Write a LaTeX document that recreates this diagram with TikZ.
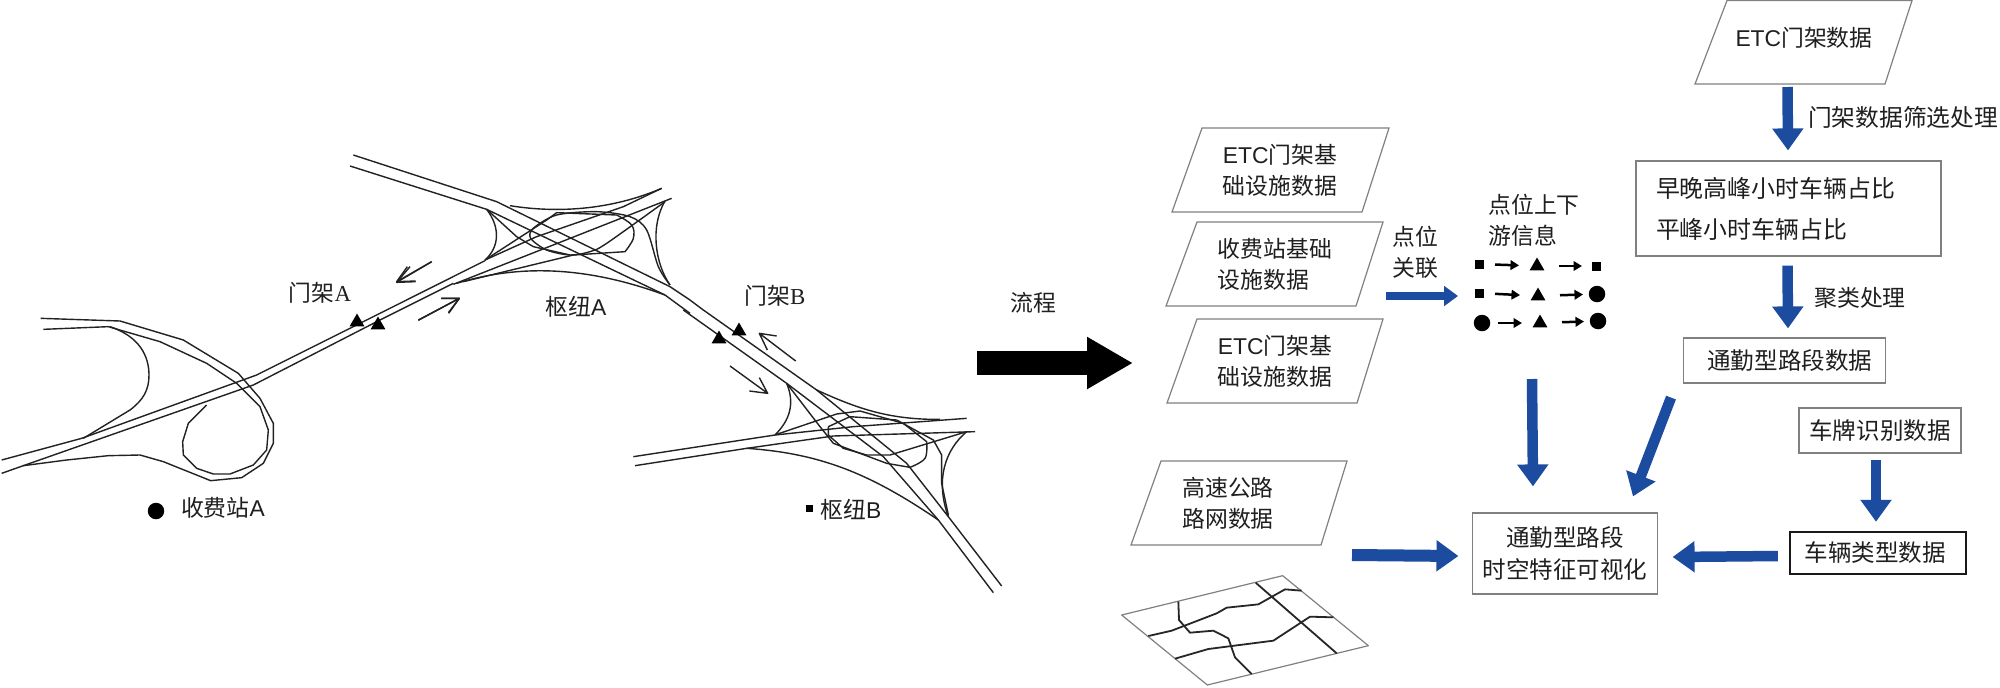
\documentclass[tikz,border=0pt]{standalone}
\usepackage{fontspec}
\usetikzlibrary{arrows.meta,shapes.geometric,calc}
\setmainfont{Liberation Sans}
\newfontfamily\cjk{Noto Sans CJK SC}
\newfontfamily\serifl{Liberation Serif}
\newcommand{\fsA}{\fontsize{13pt}{17.6pt}\selectfont}
\newcommand{\fsB}{\fontsize{13.4pt}{18.3pt}\selectfont}
\newcommand{\fsC}{\fontsize{13.6pt}{23.2pt}\selectfont}
\newcommand{\lat}[1]{{\rmfamily #1}}
\definecolor{arrowblue}{HTML}{1B4C9F}
\definecolor{boxgray}{HTML}{808080}
\definecolor{roadink}{HTML}{222222}
\tikzset{
  txt/.style={inner sep=0pt,outer sep=0pt,font=\cjk\fsA,text=black!88,align=center},
  ltxt/.style={txt,align=left},
  boxn/.style={draw=boxgray,line width=.024cm,inner sep=0pt,fill=white,font=\cjk\fsB,text=black!88,align=center},
  pline/.style={draw=boxgray,line width=.024cm},
  road/.style={draw=roadink,line width=.028cm,line join=round},
  mapedge/.style={draw=boxgray,line width=.024cm,line join=round},
  mapline/.style={draw=black!85,line width=.036cm,line join=round},
  blue arrow/.style={draw=arrowblue,line width=.21cm,-{Triangle[length=.44cm,width=.6cm,fill=arrowblue]}},
  thin blue arrow/.style={draw=arrowblue,line width=.16cm,-{Triangle[length=.28cm,width=.39cm,fill=arrowblue]}},
  flow arrow/.style={draw=black,line width=.48cm,-{Triangle[length=.92cm,width=.98cm,fill=black]}},
  small arrow/.style={draw=black,line width=.05cm,-{Triangle[length=.17cm,width=.19cm,fill=black]},shorten <=.32cm,shorten >=.36cm},
  small arrow two/.style={draw=black,line width=.05cm,-{Triangle[length=.17cm,width=.19cm,fill=black]},shorten <=.44cm,shorten >=.28cm},
  tri/.style={regular polygon,regular polygon sides=3,fill=black,inner sep=0pt,outer sep=0pt,minimum size=.34cm},
  sq/.style={rectangle,fill=black,inner sep=0pt,outer sep=0pt,minimum size=.18cm},
  dot/.style={circle,fill=black,inner sep=0pt,outer sep=0pt,minimum size=.33cm},
}
\begin{document}
\begin{tikzpicture}[x=.02cm,y=-.02cm]
\useasboundingbox (0,0) rectangle (2000,687);
\fill[white] (0,0) rectangle (2000,687);

% ---------- interchange with toll station A (zoom coordinates)
\begin{scope}[shift={(0,120)},scale=.33333]
\draw[road] (5,1020) -- (245,955) -- (770,765) -- (1100,600) -- (1455,422);
\draw[road] (5,1060) -- (70,1037) -- (760,795) -- (1140,600) -- (1360,490);
\draw[road] (122,595) -- (360,603) -- (550,660) -- (715,760) -- (780,835) -- (820,910) -- (820,970) -- (790,1030) -- (725,1073) -- (632,1082) -- (490,1025) -- (420,1005) -- (325,1007) -- (200,1020) -- (70,1037);
\draw[road] (130,628) -- (325,620) -- (480,665) -- (620,730) -- (710,790) -- (780,860) -- (805,930) -- (800,990) -- (760,1035) -- (690,1062) -- (640,1062) -- (590,1045) -- (550,1005) -- (548,965) -- (565,910) -- (620,855);
\draw[road] (330,620) .. controls (420,650) and (447,710) .. (447,765) .. controls (447,810) and (430,840) .. (390,870) -- (250,955);
\draw[road] (1295,425) -- (1190,487) (1230,440) -- (1190,487) -- (1247,485);
\draw[road] (1255,600) -- (1378,535) (1325,535) -- (1378,535) -- (1345,578);
\end{scope}

% ---------- hub A
\begin{scope}[shift={(330,140)},scale=.33333]
\draw[road] (70,45) -- (500,185) -- (1020,440) -- (1080,480);
\draw[road] (60,78) -- (470,208) -- (1005,465) -- (1080,520);
\draw[road] (370,433) -- (1025,175);
\draw[road] (465,360) -- (620,290) -- (880,200) -- (995,145);
\draw[road] (540,197) .. controls (650,215) and (820,220) .. (995,145);
\draw[road] (380,430) .. controls (560,375) and (760,375) .. (1005,465);
\draw[road] (1005,183) .. controls (960,260) and (975,370) .. (1020,435);
\draw[road] (470,208) .. controls (510,260) and (510,320) .. (465,360);
\draw[road] (470,208) -- (560,290) -- (610,320) -- (720,345);
\draw[road] (465,360) -- (650,240) -- (680,218) -- (860,225) plot[smooth,tension=.6] coordinates {(860,225) (905,255) (910,295) (885,335)} -- (730,345) -- (400,425);
\draw[road] plot[smooth,tension=.5] coordinates {(1005,185) (830,310) (780,335) (720,345) (650,330) (602,295) (610,265) (680,225) (800,215) (900,230) (950,270) (985,380) (1020,435)};
\draw[road] (305,365) -- (200,425) (232,380) -- (200,425) -- (257,423);
\draw[road] (265,541) -- (388,475) (333,475) -- (388,475) -- (356,520);
\end{scope}

% ---------- hub B
\begin{scope}[shift={(620,310)},scale=.33333]
\draw[road] (210,-30) -- (250,0) -- (590,240) -- (860,460) -- (985,620) -- (1145,828);
\draw[road] (190,0) -- (500,220) -- (790,440) -- (955,630) -- (1120,848);
\draw[road] (40,440) -- (465,375) -- (700,350) -- (1040,325);
\draw[road] (45,467) -- (380,415) -- (640,378) -- (1065,365);
\draw[road] (500,220) .. controls (525,280) and (510,330) .. (465,375);
\draw[road] (500,220) -- (600,350) -- (640,400) -- (800,460) -- (870,472) plot[smooth,tension=.6] coordinates {(870,472) (915,445) (920,395)} -- (850,340) -- (720,303) -- (650,312) -- (470,373);
\draw[road] (625,350) -- (625,375) -- (670,415) -- (740,435) -- (810,435) -- (1040,365);
\draw[road] (625,350) -- (690,320) -- (830,330) -- (940,390) -- (965,435) -- (965,520) -- (985,615);
\draw[road] (590,240) .. controls (700,290) and (800,330) .. (960,328);
\draw[road] (380,415) .. controls (600,430) and (750,490) .. (955,630);
\draw[road] (1040,365) .. controls (975,420) and (945,510) .. (985,620);
\draw[road] (527,153) -- (418,70) (470,78) -- (418,70) -- (442,120);
\draw[road] (330,168) -- (443,250) (418,203) -- (443,250) -- (388,243);
\end{scope}

% gantry markers
\node[tri] (ga1) at (357,322) {};
\node[tri] (ga2) at (378,325) {};
\node[tri] (gb1) at (719,339) {};
\node[tri] (gb2) at (739,331) {};
\node[dot] (tollA) at (156,511) {};
\node[sq,minimum size=.14cm] (hubB) at (809,508) {};

% left labels
\node[txt] (lga) at (320,293) {门架{\serifl A}};
\node[txt] (ltoll) at (223,508) {收费站\lat{A}};
\node[txt] (lhubA) at (576,307) {枢纽\lat{A}};
\node[txt] (lgb) at (775,296) {门架{\serifl B}};
\node[txt] (lhubB) at (851,510) {枢纽\lat{B}};
\node[txt] (lflow) at (1033,303) {流程};

% large flow arrow
\coordinate (flowa) at (977,363);
\coordinate (flowb) at (1133,363);
\draw[flow arrow] (flowa) -- (flowb);

% parallelograms
\draw[pline] (1202,128) -- (1389,128) -- (1362,212) -- (1172,212) -- cycle;
\node[txt] (p1) at (1280,170) {\lat{ETC}门架基\\础设施数据};
\draw[pline] (1197,222) -- (1383,222) -- (1356,306) -- (1166,306) -- cycle;
\node[ltxt] (p2) at (1275,264) {收费站基础\\设施数据};
\draw[pline] (1197,319) -- (1383,319) -- (1357,403) -- (1167,403) -- cycle;
\node[txt] (p3) at (1275,361) {\lat{ETC}门架基\\础设施数据};
\draw[pline] (1161,461) -- (1347,461) -- (1321,545) -- (1131,545) -- cycle;
\node[txt] (p4) at (1228,503) {高速公路\\路网数据};
\draw[pline] (1727,.5) -- (1912,.5) -- (1885,84) -- (1695,84) -- cycle;
\node[txt] (p0) at (1804,38) {\lat{ETC}门架数据};

% dots and labels of the up/downstream block
\node[ltxt] (lupdown) at (1534,220) {点位上下\\游信息};
\node[txt] (llink) at (1415,252) {点位\\关联};
\node[sq] (r1a) at (1479,264) {};
\node[tri] (r1b) at (1537,266) {};
\node[sq] (r1c) at (1596,266) {};
\node[sq] (r2a) at (1479,293) {};
\node[tri] (r2b) at (1538,296) {};
\node[dot] (r2c) at (1597,294) {};
\node[dot] (r3a) at (1482,323) {};
\node[tri] (r3b) at (1540,323) {};
\node[dot] (r3c) at (1598,321) {};
\draw[small arrow] (r1a.center) -- (r1b.center);
\draw[small arrow two] (r1b.center) -- (r1c.center);
\draw[small arrow] (r2a.center) -- (r2b.center);
\draw[small arrow two] (r2b.center) -- (r2c.center);
\draw[small arrow] (r3a.center) -- (r3b.center);
\draw[small arrow two] (r3b.center) -- (r3c.center);

% rectangular boxes
\node[boxn,minimum width=6.1cm,minimum height=1.9cm,text width=5.3cm,align=left,font=\cjk\fsC] (share) at (1788.5,208.5) {早晚高峰小时车辆占比\\平峰小时车辆占比};
\node[boxn,minimum width=4.04cm,minimum height=.9cm] (commute) at (1784.5,360.5) {\hspace*{6pt}通勤型路段数据};
\node[boxn,minimum width=3.24cm,minimum height=.9cm] (plate) at (1880,430.5) {车牌识别数据};
\node[boxn,draw=black!90,line width=.05cm,minimum width=3.52cm,minimum height=.84cm] (vtype) at (1878,553) {\hspace*{-3pt}车辆类型数据};
\node[boxn,minimum width=3.7cm,minimum height=1.62cm] (viz) at (1565,553.5) {通勤型路段\\时空特征可视化};

% edge labels
\node[txt,font=\cjk\fontsize{13.5pt}{16pt}\selectfont] (l1) at (1903,117) {门架数据筛选处理};
\node[txt] (l2) at (1860,298) {聚类处理};

% block arrows
\draw[blue arrow] ([shift={(-16.5,49)}]p0.center) -- ([shift={(-.5,-10)}]share.north);
\draw[blue arrow] ([shift={(-1,9)}]share.south) -- ([shift={(3.5,-9)}]commute.north);
\draw[blue arrow] ([shift={(-8,56)}]r3b.center) -- ([shift={(-32,-26)}]viz.north);
\draw[blue arrow] ([shift={(-113.5,14)}]commute.south) -- ([shift={(68,-16)}]viz.north);
\draw[blue arrow] ([shift={(-4,6)}]plate.south) -- ([shift={(-2,-9)}]vtype.north);
\draw[blue arrow] ([shift={(-11,3)}]vtype.west) -- ([shift={(14.5,3.5)}]viz.east);
\draw[blue arrow,line width=.24cm] ([shift={(124,52)}]p4.center) -- ([shift={(-13.5,2.5)}]viz.west);
\draw[thin blue arrow] ([shift={(111,32)}]p2.center) -- ([shift={(-21,3)}]r2a.center);

% road-network sheet
\begin{scope}[shift={(1110,560)},scale=.33333]
\draw[mapedge] (35,165) -- (518,47) -- (775,257) -- (292,375) -- cycle;
\draw[mapline] (205,125) -- (207,180) -- (240,218) -- (310,212) -- (355,235) -- (375,292) -- (425,342);
\draw[mapline] (115,228) -- (185,212) -- (320,160) -- (350,143) -- (445,133) -- (525,88) -- (575,92);
\draw[mapline] (195,296) -- (295,267) -- (490,242) -- (600,170) -- (670,172);
\draw[mapline] (437,68) -- (680,280);
\end{scope}
\end{tikzpicture}
\end{document}
